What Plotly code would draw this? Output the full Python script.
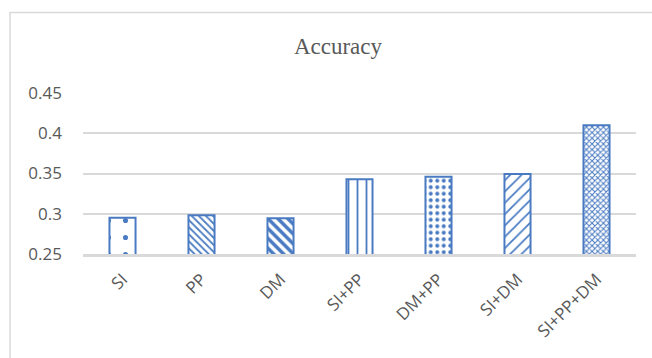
import plotly.graph_objects as go

categories = ["SI", "PP", "DM", "SI+PP", "DM+PP", "SI+DM", "SI+PP+DM"]
accuracy = [0.295, 0.298, 0.2945, 0.343, 0.346, 0.3495, 0.410]
y_ticks = [0.25, 0.3, 0.35, 0.4, 0.45]
y_tick_labels = ["0.25", "0.3", "0.35", "0.4", "0.45"]

blue = "#4a7bc2"
pattern_shapes = [".", "\\", "\\", "|", ".", "/", "x"]
pattern_sizes = [17, 5, 7, 9, 6.5, 8, 4]
pattern_solid = [0.07, 0.35, 0.5, 0.2, 0.3, 0.22, 0.45]

fig = go.Figure()
fig.add_trace(go.Bar(
    x=categories, y=accuracy, width=0.33,
    marker=dict(
        color="white",
        line=dict(color=blue, width=2),
        pattern=dict(shape=pattern_shapes, size=pattern_sizes,
                     solidity=pattern_solid, fgcolor=blue, bgcolor="white",
                     fgopacity=1, fillmode="overlay"),
    ),
    showlegend=False,
))

W, H = 652, 358
L, R, T, B = 83, 16, 93, 104
pw, ph = W - L - R, H - T - B

fig.update_layout(
    width=W, height=H,
    margin=dict(l=L, r=R, t=T, b=B),
    paper_bgcolor="white", plot_bgcolor="white",
    title=dict(text="Accuracy", x=338 / W, xref="container", xanchor="center",
               y=1 - 46 / H, yref="container", yanchor="middle",
               font=dict(family="Liberation Serif, Times New Roman, serif", size=23, color="#595959")),
    font=dict(family="Open Sans, sans-serif", size=17, color="#595959"),
    shapes=[dict(type="rect", xref="paper", yref="paper",
                 x0=(10 - L) / pw, x1=1.2, y0=-1.0, y1=(H - B - 12.5) / ph,
                 line=dict(color="#d9d9d9", width=1.5), fillcolor="rgba(0,0,0,0)",
                 layer="below")],
)
fig.update_yaxes(range=[0.25, 0.45], tickvals=y_ticks, ticktext=y_tick_labels,
                 showgrid=True, gridcolor="#d9d9d9", gridwidth=1.5,
                 zeroline=False, showline=False, ticks="",
                 ticklabelstandoff=20, tickfont=dict(size=17, color="#595959"))
fig.update_xaxes(showline=True, linecolor="#d9d9d9", linewidth=2.5,
                 tickangle=-45, ticks="outside", ticklen=6, tickcolor="rgba(0,0,0,0)",
                 tickfont=dict(size=17, color="#595959"))

fig.write_html("out.html")
